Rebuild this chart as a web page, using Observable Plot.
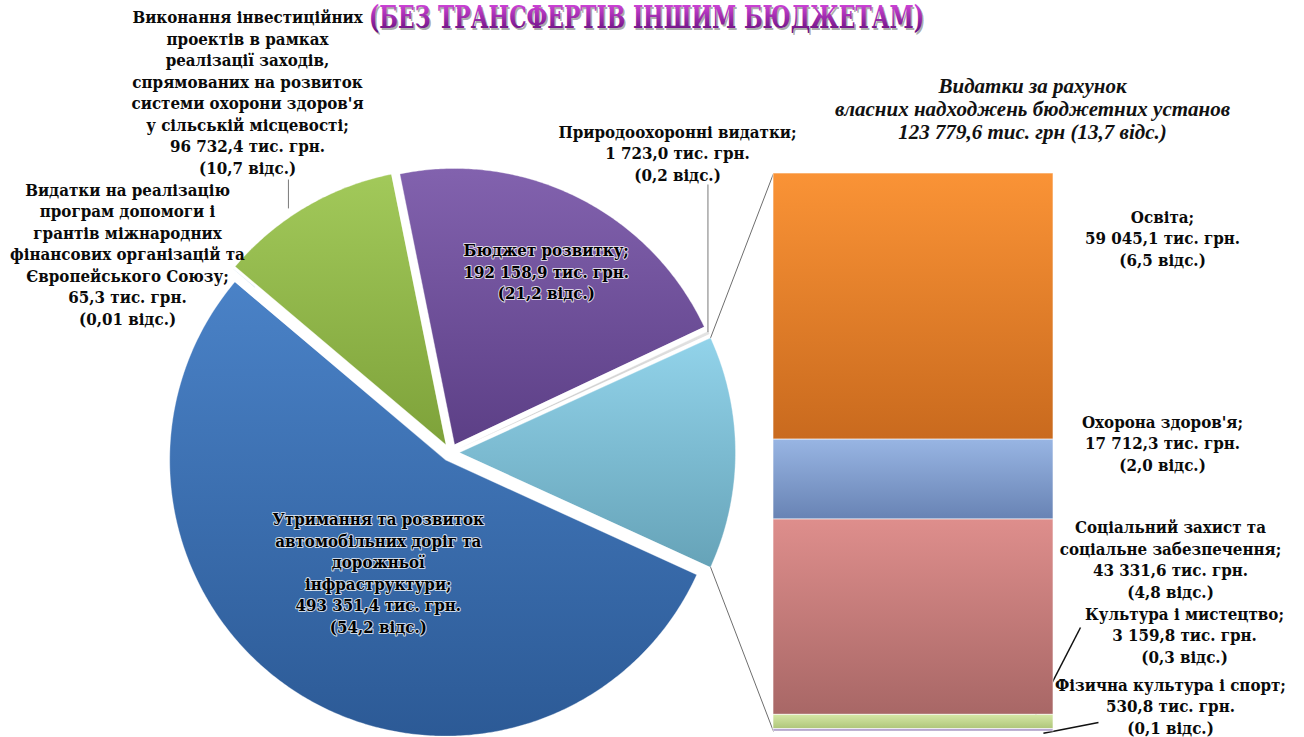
<!DOCTYPE html>
<html><head><meta charset="utf-8">
<script src="https://cdn.jsdelivr.net/npm/d3@7"></script>
<script src="https://cdn.jsdelivr.net/npm/@observablehq/plot@0.6"></script>
<style>
html,body{margin:0;padding:0;background:#fff;}
#chart{position:relative;width:1304px;height:737px;overflow:hidden;}
#chart svg{position:absolute;left:0;top:0;}
</style></head><body><div id="chart"></div>
<script>
// ---------- DATA ----------
const titleText = "(БЕЗ ТРАНСФЕРТІВ ІНШИМ БЮДЖЕТАМ)";
const headerText = "Видатки за рахунок\nвласних надходжень бюджетних установ\n123 779,6 тис. грн (13,7 відс.)";

// pie slices, clockwise order
const pieNames = [
  "Бюджет розвитку",
  "Природоохоронні видатки",
  "Видатки за рахунок власних надходжень бюджетних установ",
  "Утримання та розвиток\nавтомобільних доріг та\nдорожньої\nінфраструктури",
  "Видатки на реалізацію\nпрограм допомоги і\nгрантів міжнародних\nфінансових організацій та\nЄвропейського Союзу",
  "Виконання інвестиційних\nпроектів в рамках\nреалізації заходів,\nспрямованих на розвиток\nсистеми охорони здоров'я\nу сільській місцевості"
];
const pieValues = [192158.9, 1723.0, 123779.6, 493351.4, 65.3, 96732.4];
const pieShares = ["21,2", "0,2", "13,7", "54,2", "0,01", "10,7"];
const pieColors = [["#8262ae", "#5c3f86"], ["#e4e4e4", "#bdbdbd"], ["#92d3ea", "#66a3b8"], ["#4a82c7", "#2c5a96"], ["#4a82c7", "#2c5a96"], ["#a2c95a", "#7ea23a"]];

// bar breakdown of the "other" slice, top to bottom
const barNames = ["Освіта", "Охорона здоров'я", "Соціальний захист та\nсоціальне забезпечення", "Культура і мистецтво", "Фізична культура і спорт"];
const barValues = [59045.1, 17712.3, 43331.6, 3159.8, 530.8];
const barShares = ["6,5", "2,0", "4,8", "0,3", "0,1"];
const barColors = [["#fa9336", "#c96a1e"], ["#98b5e3", "#6883b4"], ["#de8e8c", "#a86766"], ["#d6e8a6", "#aec57a"], ["#c0b0da", "#9c8cb8"]];

// ---------- LAYOUT ----------
const W = 1304, H = 737;
const cx = 450, cy = 452, R = 276, explode = 9;
const barLeft = 773, barRight = 1053, barTop = 173, barBottom = 731;
const otherIndex = 2;
const font = "'DejaVu Serif Condensed', 'DejaVu Serif', serif";

const fmt = d3.formatLocale({decimal: ",", thousands: " ", grouping: [3]}).format(",.1f");
const labelOf = (name, v, s) => `${name};\n${fmt(v)} тис. грн.\n(${s} відс.)`;

// ---------- GRADIENT DEFS ----------
function defsMark() {
  const defs = d3.create("svg:defs");
  const add = (id, c0, c1) => {
    const g = defs.append("linearGradient").attr("id", id).attr("x1", 0).attr("y1", 0).attr("x2", 0).attr("y2", 1);
    g.append("stop").attr("offset", "0%").attr("stop-color", c0);
    g.append("stop").attr("offset", "100%").attr("stop-color", c1);
  };
  pieColors.forEach((c, i) => add("pie" + i, c[0], c[1]));
  barColors.forEach((c, i) => add("bar" + i, c[0], c[1]));
  add("titleGrad", "#e04ce6", "#5a0a74");
  return defs.node();
}

// ---------- BAR PLOT (stacked) ----------
const barData = barValues.map((v, i) => ({name: barNames[i], value: v, i}));
const barTotal = d3.sum(barValues);
const plotB = Plot.plot({
  width: W, height: H, margin: 0,
  x: {domain: [0, 1], range: [barLeft, barRight], axis: null},
  y: {domain: [0, barTotal], range: [barBottom, barTop], axis: null},
  color: {type: "identity"},
  marks: [
    defsMark,
    Plot.rectY(barData, {x1: 0, x2: 1, y: "value", reverse: true, fill: d => `url(#bar${d.i})`, stroke: "#ffffff", strokeOpacity: 0.6, strokeWidth: 1})
  ]
});
const bx = plotB.scale("x"), by = plotB.scale("y");
// cumulative (from bottom) ranges of each bar segment
const barCum = [];
{ let c = 0; for (let i = barValues.length - 1; i >= 0; i--) { barCum[i] = [c, c + barValues[i]]; c += barValues[i]; } }

// ---------- PIE GEOMETRY ----------
const pieTotal = d3.sum(pieValues);
const beforeOther = d3.sum(pieValues.slice(0, otherIndex)) + pieValues[otherIndex] / 2;
const start = Math.PI / 2 - beforeOther / pieTotal * 2 * Math.PI;
const arcs = d3.pie().sort(null).value(d => d).startAngle(start).endAngle(start + 2 * Math.PI)(pieValues);
const pt = (a, r, ox, oy) => ({x: ox + r * Math.sin(a), y: oy - r * Math.cos(a)});
const slices = arcs.map((a, i) => {
  const mid = (a.startAngle + a.endAngle) / 2;
  const ox = cx + explode * Math.sin(mid), oy = cy - explode * Math.cos(mid);
  const n = Math.max(2, Math.ceil((a.endAngle - a.startAngle) / 0.01));
  const pts = [{x: ox, y: oy}];
  for (let k = 0; k <= n; k++) pts.push(pt(a.startAngle + (a.endAngle - a.startAngle) * k / n, R, ox, oy));
  return {i, a, mid, ox, oy, pts};
});

const other = slices[otherIndex];
const vTop = pt(other.a.startAngle, R, other.ox, other.oy);
const vBot = pt(other.a.endAngle, R, other.ox, other.oy);
const connectors = [
  {x1: vTop.x, y1: vTop.y, x2: bx.apply(0), y2: by.apply(barTotal)},
  {x1: vBot.x, y1: vBot.y, x2: bx.apply(0), y2: by.apply(0)}
];

// label anchors (block centers)
const inLabel = (i, f) => { const s = slices[i]; return pt(s.mid, R * f, s.ox, s.oy); };
const purplePos = inLabel(0, 0.7);
const bluePos = inLabel(3, 0.49);
const pieLabelData = [
  {text: labelOf(pieNames[0], pieValues[0], pieShares[0]), x: purplePos.x + 5, y: purplePos.y - 1, halo: true},
  {text: labelOf(pieNames[3], pieValues[3], pieShares[3]), x: bluePos.x + 5, y: bluePos.y - 2, halo: true},
  {text: labelOf(pieNames[1], pieValues[1], pieShares[1]), x: 677, y: 152},
  {text: labelOf(pieNames[4], pieValues[4], pieShares[4]), x: 127, y: 253},
  {text: labelOf(pieNames[5], pieValues[5], pieShares[5]), x: 247, y: 91}
];
const barLabelPos = [[1162, 237], [1162, 442], [1170, 558], [1184, 634], [1170, 705]];
const barLabelData = barValues.map((v, i) => ({text: labelOf(barNames[i], v, barShares[i]), x: barLabelPos[i][0], y: barLabelPos[i][1]}));

// leader lines
const envS = slices[1];
const envPt = pt(envS.mid, R + 1, envS.ox, envS.oy);
const greenS = slices[5];
const greenPt = pt(greenS.a.startAngle + 0.42 * (greenS.a.endAngle - greenS.a.startAngle), R + 8, greenS.ox, greenS.oy);
const grayLeaders = [
  {x1: envPt.x - 2, y1: 184, x2: envPt.x - 2, y2: envPt.y},
  {x1: greenPt.x, y1: 179, x2: greenPt.x, y2: greenPt.y}
];
const blackLeaders = [
  {x1: 1080, y1: 627, x2: bx.apply(0.936), y2: by.apply(barCum[3][1])},
  {x1: 1098, y1: 722, x2: bx.apply(0.964), y2: by.apply((barCum[4][0] + barCum[4][1]) / 2) + 3}
];

const textOpts = {fontFamily: font, fontWeight: "bold", fontSize: 16.8, lineHeight: 1.28, fill: "#0a0a0a", textAnchor: "middle", lineAnchor: "middle"};

const plotA = Plot.plot({
  width: W, height: H, margin: 0,
  x: {domain: [0, W], range: [0, W], axis: null},
  y: {domain: [0, H], range: [0, H], axis: null},
  marks: [
    defsMark,
    ...slices.map(s => Plot.line(s.pts, {x: "x", y: "y", curve: "linear-closed", fill: `url(#pie${s.i})`, stroke: "#ffffff", strokeOpacity: 0.35, strokeWidth: 1})),
    Plot.link(connectors, {x1: "x1", y1: "y1", x2: "x2", y2: "y2", stroke: "#6e6e6e", strokeWidth: 1}),
    Plot.link(grayLeaders, {x1: "x1", y1: "y1", x2: "x2", y2: "y2", stroke: "#7a7a7a", strokeWidth: 1}),
    Plot.link(blackLeaders, {x1: "x1", y1: "y1", x2: "x2", y2: "y2", stroke: "#111", strokeWidth: 1.5}),
    Plot.text(pieLabelData.filter(d => d.halo), {...textOpts, x: "x", y: "y", text: "text", fill: "#000", stroke: "#ffffff", strokeWidth: 2, strokeOpacity: 0.75, paintOrder: "stroke"}),
    Plot.text(pieLabelData.filter(d => !d.halo), {...textOpts, x: "x", y: "y", text: "text"}),
    Plot.text(barLabelData, {...textOpts, x: "x", y: "y", text: "text"}),
    Plot.text([headerText], {x: 1032, y: 108, text: d => d, fontFamily: "'Liberation Serif', serif", fontStyle: "italic", fontWeight: "bold", fontSize: 21, lineHeight: 1.1, fill: "#111", textAnchor: "middle", lineAnchor: "middle"}),
    Plot.text([titleText], {x: 646, y: 18, dx: 1.5, dy: 1.5, text: d => d, fontFamily: font, fontWeight: "bold", fontSize: 31, fill: "#444", fillOpacity: 0.45, textAnchor: "middle", lineAnchor: "middle"}),
    Plot.text([titleText], {x: 646, y: 18, text: d => d, fontFamily: font, fontWeight: "bold", fontSize: 31, fill: "url(#titleGrad)", textAnchor: "middle", lineAnchor: "middle"})
  ]
});

// fit the condensed title width
d3.select(plotA).selectAll("text").filter(function() { return this.textContent === titleText; })
  .attr("textLength", 555).attr("lengthAdjust", "spacingAndGlyphs");

const chart = document.getElementById("chart");
chart.append(plotA);
plotB.setAttribute("style", "pointer-events:none;background:transparent;");
chart.append(plotB);
</script></body></html>
